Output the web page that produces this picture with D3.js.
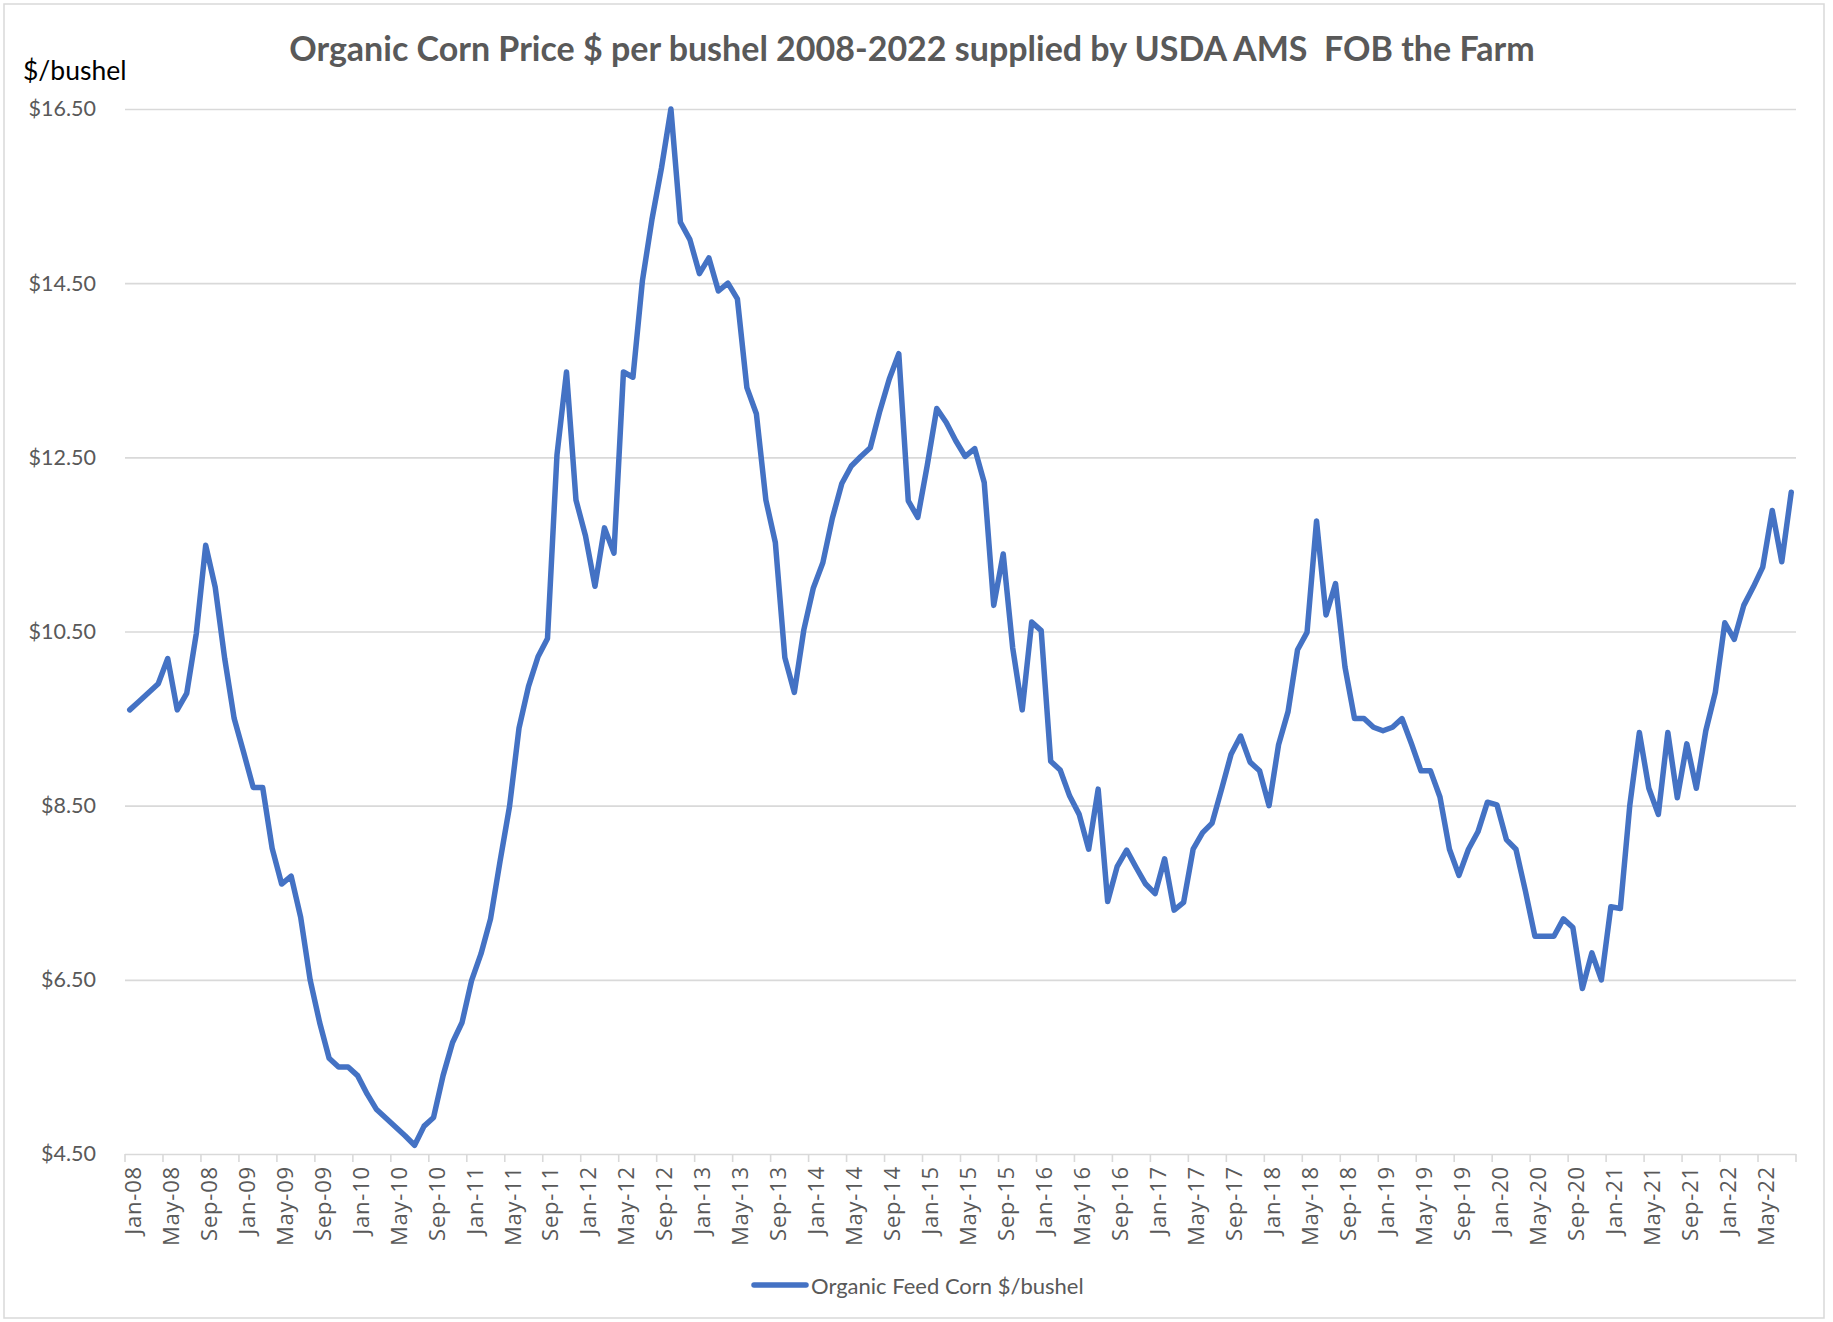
<!DOCTYPE html>
<html>
<head>
<meta charset="utf-8">
<script src="https://cdn.jsdelivr.net/npm/d3@7"></script>
<style>
  body { margin: 0; background: #fff; }
  svg { display: block; }
</style>
</head>
<body>
<div id="chart"></div>
<script>
// monthly organic feed corn price, $/bushel, Jan-08 .. Aug-22
var prices = [
  9.60, 9.70, 9.80, 9.90, 10.19, 9.60, 9.79, 10.47, 11.49, 11.01, 10.19, 9.50,    // 2008
  9.11, 8.71, 8.71, 8.01, 7.60, 7.69, 7.22, 6.50, 6.01, 5.60, 5.50, 5.50,         // 2009
  5.40, 5.19, 5.01, 4.91, 4.81, 4.71, 4.60, 4.82, 4.92, 5.40, 5.78, 6.01,         // 2010
  6.49, 6.80, 7.20, 7.86, 8.49, 9.39, 9.87, 10.21, 10.42, 12.53, 13.48, 12.01,    // 2011
  11.60, 11.02, 11.69, 11.40, 13.48, 13.42, 14.53, 15.23, 15.82, 16.50, 15.20, 15.00, // 2012
  14.61, 14.79, 14.41, 14.50, 14.32, 13.30, 13.00, 12.01, 11.52, 10.20, 9.80, 10.52,  // 2013
  11.00, 11.29, 11.80, 12.20, 12.40, 12.51, 12.61, 13.03, 13.40, 13.69, 12.00, 11.81, // 2014
  12.41, 13.06, 12.90, 12.69, 12.51, 12.60, 12.21, 10.80, 11.39, 10.31, 9.60, 10.61,  // 2015
  10.51, 9.01, 8.91, 8.61, 8.40, 8.00, 8.69, 7.40, 7.80, 7.99, 7.79, 7.60,        // 2016
  7.49, 7.89, 7.30, 7.39, 8.00, 8.19, 8.30, 8.69, 9.09, 9.30, 9.00, 8.90,         // 2017
  8.50, 9.20, 9.58, 10.29, 10.49, 11.77, 10.69, 11.05, 10.09, 9.50, 9.50, 9.40,   // 2018
  9.36, 9.40, 9.50, 9.21, 8.90, 8.90, 8.60, 8.00, 7.70, 8.00, 8.20, 8.54,         // 2019
  8.51, 8.11, 8.00, 7.52, 7.00, 7.00, 7.00, 7.20, 7.10, 6.40, 6.81, 6.50,         // 2020
  7.34, 7.32, 8.51, 9.34, 8.70, 8.40, 9.34, 8.59, 9.21, 8.70, 9.36, 9.80,         // 2021
  10.60, 10.41, 10.80, 11.01, 11.24, 11.89, 11.30, 12.10                          // 2022
];

var tickLabels = [
  "Jan-08","May-08","Sep-08","Jan-09","May-09","Sep-09","Jan-10","May-10","Sep-10",
  "Jan-11","May-11","Sep-11","Jan-12","May-12","Sep-12","Jan-13","May-13","Sep-13",
  "Jan-14","May-14","Sep-14","Jan-15","May-15","Sep-15","Jan-16","May-16","Sep-16",
  "Jan-17","May-17","Sep-17","Jan-18","May-18","Sep-18","Jan-19","May-19","Sep-19",
  "Jan-20","May-20","Sep-20","Jan-21","May-21","Sep-21","Jan-22","May-22"
];

var yTicks = [4.5, 6.5, 8.5, 10.5, 12.5, 14.5, 16.5];

var titleText = "Organic Corn Price $ per bushel 2008-2022 supplied by USDA AMS  FOB the Farm";
var yUnit = "$/bushel";
var seriesName = "Organic Feed Corn $/bushel";

// one category per month
var fmtMonth = d3.timeFormat("%b-%y");
var months = d3.timeMonth.range(new Date(2008, 0, 1), new Date(2008, 0 + prices.length, 1)).map(fmtMonth);

var svgWidth = 1833;
var svgHeight = 1322;
var margin = { top: 109, right: 37, bottom: 168, left: 125 };
var width = svgWidth - margin.left - margin.right;
var height = svgHeight - margin.top - margin.bottom;

var textGray = "#595959";
var gridGray = "#d9d9d9";
var lineBlue = "#4472c4";

var svg = d3.select("#chart")
  .append("svg")
  .attr("width", svgWidth)
  .attr("height", svgHeight);

// chart area border
svg.append("rect")
  .attr("x", 4).attr("y", 4)
  .attr("width", 1820).attr("height", 1314)
  .attr("fill", "#fff")
  .attr("stroke", gridGray)
  .attr("stroke-width", 1.5);

var chartGroup = svg.append("g")
  .attr("transform", `translate(${margin.left}, ${margin.top})`);

var xScale = d3.scaleBand()
  .domain(months)
  .range([0, width])
  .padding(0);

var yScale = d3.scaleLinear()
  .domain([4.5, 16.5])
  .range([height, 0]);

// gridlines + y labels
var leftAxis = d3.axisLeft(yScale)
  .tickValues(yTicks)
  .tickFormat(d3.format("$.2f"))
  .tickSize(-width)
  .tickPadding(29);

var yAxisG = chartGroup.append("g").call(leftAxis);
yAxisG.select(".domain").remove();
yAxisG.selectAll(".tick line")
  .attr("stroke", gridGray)
  .attr("stroke-width", 1.6);
yAxisG.selectAll(".tick text")
  .attr("fill", textGray)
  .style("font-family", "Lato, 'Open Sans', sans-serif")
  .style("font-size", "21.5px");

// bottom tick marks at month boundaries
var tickPos = tickLabels.map(d => xScale(d)).concat([width]);
chartGroup.append("g")
  .attr("transform", `translate(0, ${height})`)
  .selectAll("line")
  .data(tickPos)
  .enter()
  .append("line")
  .attr("x1", d => d).attr("x2", d => d)
  .attr("y1", 0).attr("y2", 8)
  .attr("stroke", gridGray)
  .attr("stroke-width", 1.6);

// rotated month labels
chartGroup.append("g")
  .selectAll("text")
  .data(tickLabels)
  .enter()
  .append("text")
  .attr("transform", d => `translate(${xScale(d) + xScale.bandwidth() / 2 + 2}, ${height + 12}) rotate(-90)`)
  .attr("text-anchor", "end")
  .attr("dominant-baseline", "central")
  .attr("fill", textGray)
  .style("font-family", "'Open Sans', sans-serif")
  .style("font-size", "22px")
  .style("letter-spacing", "0.8px")
  .text(d => d);

// the price line
var priceLine = d3.line()
  .x((d, i) => xScale(months[i]) + xScale.bandwidth() / 2)
  .y(d => yScale(d));

chartGroup.append("path")
  .datum(prices)
  .attr("d", priceLine)
  .attr("fill", "none")
  .attr("stroke", lineBlue)
  .attr("stroke-width", 5.5)
  .attr("stroke-linejoin", "round")
  .attr("stroke-linecap", "round");

// title
var title = svg.append("text")
  .attr("x", 912)
  .attr("y", 61)
  .attr("text-anchor", "middle")
  .attr("fill", textGray)
  .style("white-space", "pre")
  .style("font-family", "Lato, sans-serif")
  .style("font-weight", "bold")
  .style("font-size", "30px")
  .text(titleText);
// fit title to its width in the picture
var tw = title.node().getComputedTextLength();
title.style("font-size", (30 * 1245 / tw).toFixed(1) + "px");

svg.append("text")
  .attr("x", 23)
  .attr("y", 80)
  .attr("fill", "#000")
  .style("font-family", "Lato, sans-serif")
  .style("font-size", "26.5px")
  .text(yUnit);

// legend
var legend = svg.append("g").attr("transform", "translate(754, 1285)");
legend.append("line")
  .attr("x1", 0).attr("x2", 52)
  .attr("y1", 0).attr("y2", 0)
  .attr("stroke", lineBlue)
  .attr("stroke-width", 5.5)
  .attr("stroke-linecap", "round");
legend.append("text")
  .attr("x", 57)
  .attr("y", 0)
  .attr("dominant-baseline", "central")
  .attr("fill", textGray)
  .style("font-family", "Lato, sans-serif")
  .style("font-size", "22px")
  .text(seriesName);
</script>
</body>
</html>
